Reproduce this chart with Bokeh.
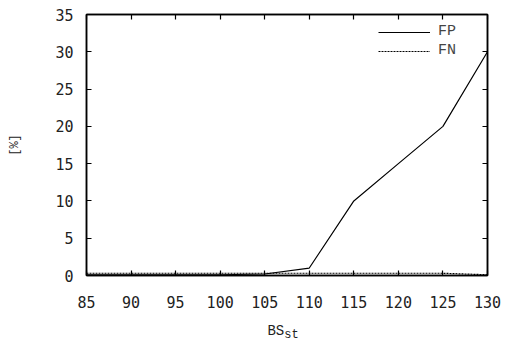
from bokeh.plotting import figure
from bokeh.models import LinearAxis, Range1d, FixedTicker, Legend, LegendItem
from bokeh.layouts import column
from bokeh.core.properties import value
from bokeh.embed import file_html
from bokeh.resources import INLINE

bs = [85, 90, 95, 100, 105, 110, 115, 120, 125, 130]
fp = [0.1, 0.1, 0.1, 0.1, 0.2, 1.0, 10.0, 15.0, 20.0, 30.0]
fn = [0.3, 0.3, 0.3, 0.3, 0.3, 0.3, 0.3, 0.3, 0.3, 0.1]
x_ticks = [85, 90, 95, 100, 105, 110, 115, 120, 125, 130]
y_ticks = [0, 5, 10, 15, 20, 25, 30, 35]

W, H = 505, 315
p = figure(width=W, height=H, output_backend="svg", toolbar_location=None,
           x_range=Range1d(85, 130), y_range=Range1d(0, 35),
           min_border_left=86, min_border_right=18, min_border_top=14, min_border_bottom=40,
           x_axis_location=None, y_axis_location=None)
p.xgrid.visible = False
p.ygrid.visible = False
p.outline_line_color = "black"
p.outline_line_width = 1.5
p.background_fill_color = "white"
p.border_fill_color = "white"

tick_font = "DejaVu Sans Mono"

def style(ax, ticks, labels):
    ax.ticker = FixedTicker(ticks=ticks)
    ax.axis_line_color = "black"
    ax.axis_line_width = 1.5
    ax.major_tick_in = 5
    ax.major_tick_out = 0
    ax.major_tick_line_width = 1.2
    ax.minor_tick_line_color = None
    ax.major_label_text_font = tick_font
    ax.major_label_text_font_size = "15px"
    ax.major_label_text_color = "#222222"
    if not labels:
        ax.major_label_text_font_size = "0px"
        ax.major_label_text_color = None

xb = LinearAxis(); style(xb, x_ticks, True); xb.major_label_standoff = 20
xt = LinearAxis(); style(xt, x_ticks, False)
yl = LinearAxis(); style(yl, y_ticks, True); yl.major_label_standoff = 13
yl.axis_label = "[%]"
yl.axis_label_text_font = "Liberation Mono"
yl.axis_label_text_font_size = "12px"
yl.axis_label_text_font_style = "normal"
yl.axis_label_text_color = "#222222"
yl.axis_label_standoff = 30
yr = LinearAxis(); style(yr, y_ticks, False)
p.add_layout(xb, "below")
p.add_layout(xt, "above")
p.add_layout(yl, "left")
p.add_layout(yr, "right")

r1 = p.line(bs, fp, line_color="black", line_width=1.2)
r2 = p.line(bs, fn, line_color="black", line_width=1.2, line_dash="2 1")

leg = Legend(items=[LegendItem(label="FP", renderers=[r1]), LegendItem(label="FN", renderers=[r2])],
             location=(292, 216), border_line_color=None, background_fill_alpha=0,
             label_text_font="Liberation Mono", label_text_font_size="15px",
             glyph_width=52, glyph_height=16, label_height=16, spacing=2,
             padding=4, margin=0, label_standoff=8)
p.add_layout(leg)

# x-axis title strip (BS with subscript st), frame aligned with the main plot
H2 = 27
p2 = figure(width=W, height=H2, output_backend="svg", toolbar_location=None,
            x_range=Range1d(85, 130), y_range=Range1d(0, H2),
            min_border=0, x_axis_location=None, y_axis_location=None)
p2.xgrid.visible = False
p2.ygrid.visible = False
p2.outline_line_color = None
p2.text(x=[105.3], y=[12], text=["BS"], text_font=value("Liberation Mono"),
        text_font_size="14px", text_align="left", text_baseline="middle", text_color="#222222")
p2.text(x=[107.2], y=[7.5], text=["st"], text_font=value("Liberation Mono"),
        text_font_size="12px", text_align="left", text_baseline="middle", text_color="#222222")

layout = column(p, p2, spacing=0)
open("out.html", "w").write(file_html(layout, INLINE))
